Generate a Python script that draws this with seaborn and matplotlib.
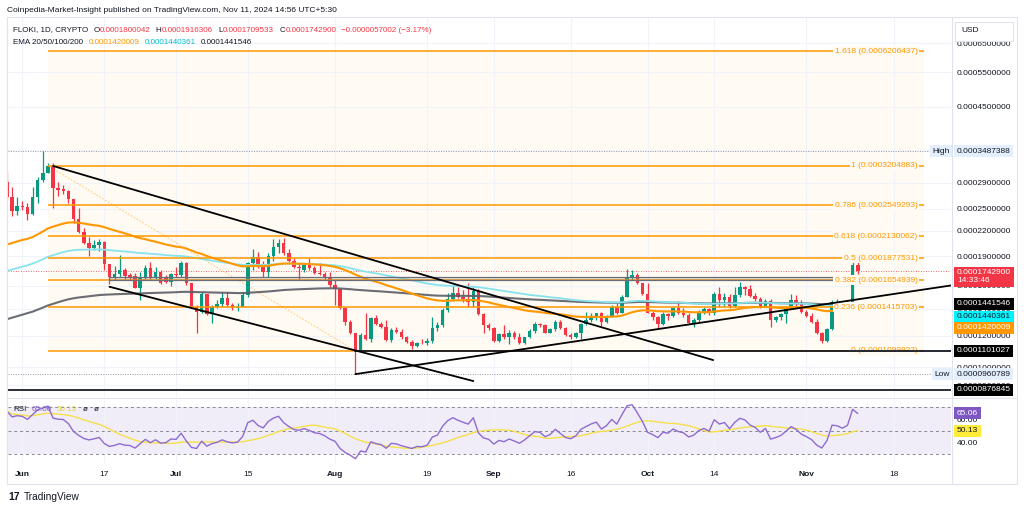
import numpy as np
import pandas as pd
import matplotlib
matplotlib.use("Agg")
import matplotlib.pyplot as plt
import matplotlib.dates as mdates
from matplotlib.patches import Rectangle
from matplotlib.lines import Line2D
import seaborn as sns

sns.set_theme(style="white")
plt.rcParams["font.family"] = ["Liberation Sans", "DejaVu Sans"]
plt.rcParams["axes.unicode_minus"] = False

# ---------------- data (prices in units of 1e-4 USD) ----------------
UNIT = 1e-4
dates = pd.date_range("2024-05-29", "2024-11-11", freq="D")
opens = [2.922, 2.670, 2.471, 2.543, 2.520, 2.423, 2.670, 2.951, 3.077, 3.205,
         2.822, 2.795, 2.774, 2.638, 2.350, 2.188, 2.053, 1.988, 2.023, 2.065,
         1.815, 1.681, 1.710, 1.754, 1.700, 1.690, 1.583, 1.671, 1.777, 1.671,
         1.736, 1.681, 1.639, 1.713, 1.704, 1.829, 1.624, 1.418, 1.378, 1.526,
         1.359, 1.413, 1.440, 1.489, 1.433, 1.405, 1.418, 1.518, 1.829, 1.894,
         1.787, 1.736, 1.902, 1.999, 2.053, 1.931, 1.851, 1.787, 1.750, 1.805,
         1.771, 1.726, 1.713, 1.671, 1.608, 1.568, 1.405, 1.301, 1.216, 1.100,
         1.204, 1.174, 1.326, 1.283, 1.259, 1.170, 1.240, 1.228, 1.188, 1.159,
         1.130, 1.152, 1.148, 1.165, 1.252, 1.276, 1.392, 1.480, 1.532, 1.503,
         1.480, 1.460, 1.556, 1.359, 1.276, 1.252, 1.165, 1.211, 1.188, 1.220,
         1.188, 1.152, 1.188, 1.235, 1.283, 1.274, 1.220, 1.244, 1.301, 1.252,
         1.204, 1.188, 1.216, 1.283, 1.314, 1.344, 1.365, 1.301, 1.339, 1.413,
         1.370, 1.503, 1.681, 1.704, 1.624, 1.526, 1.370, 1.334, 1.283, 1.359,
         1.345, 1.405, 1.370, 1.352, 1.293, 1.314, 1.370, 1.397, 1.365, 1.526,
         1.475, 1.498, 1.424, 1.518, 1.587, 1.568, 1.509, 1.480, 1.418, 1.469,
         1.314, 1.334, 1.359, 1.413, 1.475, 1.440, 1.378, 1.344, 1.301, 1.216,
         1.165, 1.244, 1.430, 1.451, 1.418, 1.446, 1.8000042]
highs = [3.085, 2.838, 2.670, 2.613, 2.578, 2.838, 3.007, 3.487388, 3.261, 3.249,
         2.922, 2.867, 2.785, 2.643, 2.505, 2.231, 2.126, 2.086, 2.094, 2.070,
         1.820, 1.795, 1.913, 1.774, 1.723, 1.726, 1.736, 1.805, 1.840, 1.787,
         1.754, 1.704, 1.726, 1.787, 1.851, 1.840, 1.628, 1.433, 1.547, 1.530,
         1.433, 1.475, 1.547, 1.547, 1.451, 1.446, 1.547, 1.840, 1.976, 1.949,
         1.851, 1.938, 2.094, 2.102, 2.106, 1.976, 1.876, 1.823, 1.815, 1.876,
         1.795, 1.823, 1.736, 1.736, 1.655, 1.577, 1.418, 1.314, 1.220, 1.216,
         1.370, 1.334, 1.352, 1.301, 1.314, 1.252, 1.259, 1.244, 1.197, 1.170,
         1.159, 1.179, 1.181, 1.339, 1.301, 1.405, 1.532, 1.599, 1.592, 1.562,
         1.624, 1.592, 1.568, 1.370, 1.288, 1.259, 1.220, 1.276, 1.240, 1.235,
         1.220, 1.193, 1.244, 1.301, 1.293, 1.283, 1.252, 1.314, 1.314, 1.259,
         1.220, 1.228, 1.293, 1.378, 1.370, 1.370, 1.378, 1.352, 1.433, 1.446,
         1.518, 1.761, 1.754, 1.726, 1.629, 1.629, 1.386, 1.344, 1.378, 1.370,
         1.413, 1.469, 1.405, 1.365, 1.326, 1.392, 1.418, 1.405, 1.547, 1.592,
         1.532, 1.526, 1.592, 1.639, 1.599, 1.608, 1.538, 1.498, 1.480, 1.480,
         1.344, 1.370, 1.424, 1.526, 1.518, 1.475, 1.392, 1.365, 1.319, 1.228,
         1.252, 1.475, 1.480, 1.460, 1.475, 1.931, 1.9163060]
lows = [2.643, 2.396, 2.410, 2.481, 2.342, 2.410, 2.578, 2.922, 3.067, 2.505,
        2.690, 2.720, 2.578, 2.305, 2.175, 2.037, 1.902, 1.969, 1.957, 1.754,
        1.617, 1.655, 1.684, 1.661, 1.655, 1.577, 1.475, 1.661, 1.661, 1.661,
        1.617, 1.629, 1.599, 1.687, 1.687, 1.608, 1.405, 1.216, 1.370, 1.352,
        1.293, 1.405, 1.418, 1.418, 1.392, 1.386, 1.413, 1.503, 1.754, 1.771,
        1.687, 1.687, 1.851, 1.938, 1.913, 1.840, 1.771, 1.655, 1.736, 1.754,
        1.713, 1.704, 1.655, 1.592, 1.433, 1.397, 1.276, 1.211, 0.960789, 1.094,
        1.170, 1.159, 1.276, 1.252, 1.165, 1.159, 1.216, 1.174, 1.148, 1.108,
        1.122, 1.143, 1.137, 1.152, 1.235, 1.264, 1.378, 1.469, 1.489, 1.460,
        1.418, 1.418, 1.352, 1.220, 1.240, 1.159, 1.159, 1.174, 1.143, 1.174,
        1.143, 1.143, 1.181, 1.220, 1.264, 1.216, 1.216, 1.235, 1.244, 1.197,
        1.174, 1.181, 1.174, 1.276, 1.301, 1.314, 1.269, 1.288, 1.334, 1.359,
        1.365, 1.497, 1.655, 1.617, 1.518, 1.365, 1.314, 1.244, 1.276, 1.314,
        1.340, 1.359, 1.339, 1.283, 1.259, 1.301, 1.359, 1.352, 1.352, 1.418,
        1.418, 1.405, 1.413, 1.503, 1.518, 1.498, 1.469, 1.405, 1.413, 1.259,
        1.301, 1.314, 1.288, 1.405, 1.418, 1.370, 1.334, 1.293, 1.211, 1.152,
        1.159, 1.240, 1.397, 1.397, 1.397, 1.440, 1.7095330]
closes = [2.670, 2.471, 2.543, 2.520, 2.423, 2.670, 2.951, 3.077, 3.205, 2.822,
          2.785, 2.774, 2.638, 2.350, 2.188, 2.053, 1.988, 2.023, 2.065, 1.815,
          1.681, 1.710, 1.754, 1.694, 1.681, 1.583, 1.681, 1.777, 1.671, 1.736,
          1.629, 1.639, 1.713, 1.704, 1.829, 1.624, 1.418, 1.378, 1.526, 1.359,
          1.413, 1.440, 1.489, 1.433, 1.405, 1.418, 1.518, 1.829, 1.894, 1.787,
          1.736, 1.902, 1.999, 2.053, 1.931, 1.851, 1.787, 1.771, 1.805, 1.771,
          1.726, 1.713, 1.671, 1.608, 1.568, 1.405, 1.301, 1.216, 1.100, 1.204,
          1.174, 1.326, 1.283, 1.259, 1.170, 1.240, 1.228, 1.188, 1.159, 1.130,
          1.152, 1.148, 1.165, 1.252, 1.276, 1.392, 1.480, 1.532, 1.503, 1.480,
          1.460, 1.556, 1.359, 1.276, 1.252, 1.165, 1.211, 1.188, 1.220, 1.188,
          1.152, 1.188, 1.235, 1.283, 1.274, 1.220, 1.244, 1.301, 1.252, 1.204,
          1.188, 1.216, 1.283, 1.314, 1.344, 1.365, 1.301, 1.339, 1.413, 1.370,
          1.503, 1.681, 1.704, 1.624, 1.526, 1.370, 1.334, 1.283, 1.359, 1.345,
          1.405, 1.370, 1.352, 1.293, 1.314, 1.370, 1.397, 1.365, 1.526, 1.475,
          1.498, 1.424, 1.518, 1.587, 1.568, 1.509, 1.480, 1.418, 1.469, 1.314,
          1.334, 1.359, 1.413, 1.475, 1.440, 1.378, 1.344, 1.301, 1.216, 1.165,
          1.244, 1.460, 1.451, 1.418, 1.460, 1.800, 1.7429000]

# EMA values at the left edge of the chart
EMA_SEEDS = {50: 2.006, 100: 1.726, 200: 1.306}
# Wilder RSI(14) averages at the first candle (chosen to match the RSI start ~66)
RSI_SEED_GAIN, RSI_SEED_LOSS = 0.13, 0.065

fib_levels = ["1.618", "1", "0.786", "0.618", "0.5", "0.382", "0.236", "0"]
fib_prices = [0.0006206437, 0.0003204883, 0.0002549293, 0.0002130062,
              0.0001877531, 0.0001654939, 0.0001415703, 0.0001099922]
fib_start = "2024-06-06"
fib_trend = [("2024-06-06", 0.0003204883), ("2024-08-05", 0.0001099922)]

high_price, low_price = 0.0003487388, 0.0000960789
last_price = 0.00017429
support_line = 0.0001101027
bottom_line = 0.0000876845
box_zone = ("2024-06-18", "2024-11-11", 0.0001655, 0.0001687)
upper_channel = [("2024-06-07", 0.000320), ("2024-10-13 19:00", 0.0001042)]
lower_channel = [("2024-06-18", 0.0001592), ("2024-08-28", 0.0000923)]
rising_line = [("2024-08-05", 0.0000960789), ("2024-11-24 02:00", 0.0001568)]

price_ticks = [0.00009, 0.0001, 0.00012, 0.00014, 0.00016, 0.00019, 0.00022,
               0.00025, 0.00029, 0.00035, 0.00045, 0.00055, 0.00065]
date_ticks = ["2024-06-01", "2024-06-17", "2024-07-01", "2024-07-15", "2024-08-01",
              "2024-08-19", "2024-09-01", "2024-09-16", "2024-10-01", "2024-10-14",
              "2024-11-01", "2024-11-18"]
date_labels = ["Jun", "17", "Jul", "15", "Aug", "19", "Sep", "16", "Oct", "14", "Nov", "18"]

# ---------------- derived series ----------------
o = np.array(opens) * UNIT
h = np.array(highs) * UNIT
l = np.array(lows) * UNIT
c = np.array(closes) * UNIT
x = mdates.date2num(dates.to_pydatetime())

def ema(vals, span, seed):
    a = 2.0 / (span + 1)
    out, prev = [], seed
    for v in vals:
        prev = a * v + (1 - a) * prev
        out.append(prev)
    return np.array(out)

ema50 = ema(np.array(closes), 50, EMA_SEEDS[50]) * UNIT
ema100 = ema(np.array(closes), 100, EMA_SEEDS[100]) * UNIT
ema200 = ema(np.array(closes), 200, EMA_SEEDS[200]) * UNIT

G, Ls = RSI_SEED_GAIN, RSI_SEED_LOSS
rsi = [100 * G / (G + Ls)]
for i in range(1, len(closes)):
    d = closes[i] - closes[i - 1]
    G = (G * 13 + max(d, 0)) / 14
    Ls = (Ls * 13 + max(-d, 0)) / 14
    rsi.append(100 * G / (G + Ls))
rsi = np.array(rsi)
rsi_ma = pd.Series(rsi).rolling(14, min_periods=1).mean().values

# ---------------- figure ----------------
W, H = 1024, 509
fig = plt.figure(figsize=(W / 100, H / 100), dpi=100, facecolor="white")
fx = lambda px: px / W
fy = lambda py: 1 - py / H
LX, RX = 8, 951
TOP, MID, RTOP, RBOT = 17, 397, 398, 463
ax = fig.add_axes([fx(LX), fy(MID), (RX - LX) / W, (MID - TOP) / H])
axr = fig.add_axes([fx(LX), fy(RBOT), (RX - LX) / W, (RBOT - RTOP) / H], sharex=ax)

TXT = "#131722"
GREEN, RED = "#089981", "#f23645"
ORANGE = "#ff9800"
CREAM = "#fffaf2"
FS = 6

jun1 = mdates.date2num(pd.Timestamp("2024-06-01"))
x0, x1 = jun1 - 2.79, jun1 + 181.2
ax.set_xlim(x0, x1)
ax.set_yscale("log")
ax.set_ylim(0.8417e-4, 7.57e-4)
px2x = lambda px: x0 + (px - LX) / (RX - LX) * (x1 - x0)
d2n = lambda s: mdates.date2num(pd.Timestamp(s))

for a in (ax, axr):
    for s in a.spines.values():
        s.set_visible(False)
ax.set_xticks([d2n(d) for d in date_ticks])
ax.tick_params(axis="x", labelbottom=False, length=0)
ax.grid(True, color="#f0f3fa", lw=0.8)
axr.grid(True, axis="x", color="#f0f3fa", lw=0.8)
axr.grid(False, axis="y")

# fib retracement
xf0, xf1 = d2n(fib_start), px2x(924)
ax.fill_between([xf0, xf1], fib_prices[-1], fib_prices[0], color=CREAM, lw=0, zorder=0.2)
for lev, p in zip(fib_levels, fib_prices):
    ax.plot([xf0, xf1], [p, p], color=ORANGE, lw=1.1, zorder=6, solid_capstyle="butt")
    ax.text(px2x(917.5), p, f"{lev} ({p:.10f})", ha="right", va="center", fontsize=FS,
            color=ORANGE, zorder=6.5, bbox=dict(fc=CREAM, ec="none", pad=1.0))
ax.plot([d2n(fib_trend[0][0]), d2n(fib_trend[1][0])], [fib_trend[0][1], fib_trend[1][1]],
        color=ORANGE, lw=0.8, alpha=0.45, ls=(0, (1.5, 1.5)), zorder=2)

# horizontal reference lines
ax.axhline(high_price, color="#9598a1", lw=0.7, ls=(0, (1, 1.5)), zorder=1)
ax.axhline(low_price, color="#9598a1", lw=0.7, ls=(0, (1, 1.5)), zorder=1)
ax.axhline(last_price, color=RED, lw=0.6, ls=(0, (1, 2)), zorder=1)
ax.axhline(bottom_line, color="#2a2e39", lw=1.4, zorder=6)
ax.plot([d2n("2024-08-05"), x1], [support_line, support_line], color="#131722", lw=1.3, zorder=7)

# zone box
bx0, bx1 = d2n(box_zone[0]), d2n(box_zone[1])
ax.add_patch(Rectangle((bx0, box_zone[2]), bx1 - bx0, box_zone[3] - box_zone[2],
                       fc="#787b86", alpha=0.18, ec="none", zorder=6))
ax.add_patch(Rectangle((bx0, box_zone[2]), bx1 - bx0, box_zone[3] - box_zone[2],
                       fc="none", ec="#6a6d78", lw=0.9, zorder=6))

# candles
col = np.where(c >= o, GREEN, RED)
ax.vlines(x, l, h, colors=col, lw=0.9, zorder=4)
blo = np.minimum(o, c)
bhi = np.maximum(np.maximum(o, c), blo * 1.004)
ax.bar(x, bhi - blo, bottom=blo, width=0.7, color=col, lw=0, zorder=5)

# EMAs
sns.lineplot(x=x, y=ema200, ax=ax, color="#5b5d66", lw=1.5, alpha=0.9, zorder=5.5)
sns.lineplot(x=x, y=ema100, ax=ax, color="#86e3ee", lw=1.3, zorder=5.6)
sns.lineplot(x=x, y=ema50, ax=ax, color=ORANGE, lw=1.5, zorder=5.7)

# trend lines
def seg(pts, extend=False):
    xa, ya = d2n(pts[0][0]), np.log(pts[0][1])
    xb, yb = d2n(pts[1][0]), np.log(pts[1][1])
    if extend:
        yb = ya + (yb - ya) * (x1 - xa) / (xb - xa)
        xb = x1
    ax.plot([xa, xb], [np.exp(ya), np.exp(yb)], color="#000000", lw=1.3, zorder=7)
seg(upper_channel)
seg(lower_channel)
seg(rising_line, extend=True)

# price axis
ax.yaxis.tick_right()
ax.set_yticks(price_ticks)
ax.set_yticklabels([f"{t:.10f}" for t in price_ticks])
ax.yaxis.set_minor_locator(matplotlib.ticker.NullLocator())
ax.tick_params(axis="y", length=0, pad=4.3, labelsize=FS, colors=TXT)
ax.set_xlabel(""); ax.set_ylabel("")

yb_main = ax.get_yaxis_transform()
LBLX = (957 - LX) / (RX - LX)
def axis_label(a, val, text, fc, tc, dy=0):
    a.annotate(text, xy=(LBLX, val), xycoords=a.get_yaxis_transform(),
               xytext=(0, dy), textcoords="offset points", ha="left", va="center",
               fontsize=FS, color=tc, zorder=20, annotation_clip=False,
               bbox=dict(boxstyle="square,pad=0.3", fc=fc, ec="none"))

axis_label(ax, high_price, "0.0003487388", "#e3effd", TXT)
axis_label(ax, last_price, "0.0001742900\n14:33:46", RED, "white", dy=-4.0)
axis_label(ax, 0.0001441546, "0.0001441546", "#000000", "white")
axis_label(ax, 0.0001440361, "0.0001440361", "#00f5ff", TXT, dy=-9.1)
axis_label(ax, 0.0001420009, "0.0001420009", ORANGE, "white", dy=-15.3)
axis_label(ax, support_line, "0.0001101027", "#000000", "white")
axis_label(ax, low_price, "0.0000960789", "#e3effd", TXT)
axis_label(ax, bottom_line, "0.0000876845", "#000000", "white")

HLX = (949.5 - LX) / (RX - LX)
for val, t in ((high_price, "High"), (low_price, "Low")):
    ax.text(HLX, val, t, transform=yb_main, ha="right", va="center", fontsize=FS,
            color=TXT, zorder=20, bbox=dict(boxstyle="square,pad=0.3", fc="#e3effd", ec="none"))

# RSI pane
axr.axhspan(30, 70, color="#7e57c2", alpha=0.1, lw=0, zorder=0.2)
for v in (70, 50, 30):
    axr.axhline(v, color="#868993", lw=0.7, ls=(0, (3, 3)), zorder=1)
sns.lineplot(x=x, y=rsi_ma, ax=axr, color="#f5e04a", lw=1.0, zorder=3)
sns.lineplot(x=x, y=rsi, ax=axr, color="#8e6bd0", lw=1.0, zorder=4)
axr.set_ylim(22.6, 77.9)
axr.set_xlim(x0, x1)
axr.yaxis.tick_right()
axr.set_yticks([40, 60])
axr.set_yticklabels(["40.00", "60.00"])
axr.tick_params(axis="y", length=0, pad=4.3, labelsize=FS, colors=TXT)
axr.set_xticks([d2n(d) for d in date_ticks])
axr.set_xticklabels(date_labels)
axr.tick_params(axis="x", length=0, pad=5.5, labelsize=FS, colors=TXT)
for tl, lab in zip(axr.get_xticklabels(), date_labels):
    if not lab.isdigit():
        tl.set_fontweight("bold")
axr.set_xlabel(""); axr.set_ylabel("")
axis_label(axr, 65.06, "65.06", "#7e57c2", "white")
axis_label(axr, 50.13, "50.13", "#ffeb3b", TXT)

# frame / separators
def fline(xa, ya, xb, yb, color="#e0e3eb", lw=0.8):
    fig.add_artist(Line2D([fx(xa), fx(xb)], [fy(ya), fy(yb)], color=color, lw=lw))
fline(7, 17, 1017, 17); fline(7, 484, 1017, 484)
fline(7, 17, 7, 484); fline(1017, 17, 1017, 484)
fline(7, 397.5, 1017, 397.5)
fline(951.5, 17, 951.5, 484)

# USD box
fig.add_artist(Rectangle((fx(955), fy(41)), fx(1013) - fx(955), fy(22) - fy(41),
                         transform=fig.transFigure, fc="white", ec="#e0e3eb", lw=0.8, zorder=25))
fig.text(fx(961), fy(31), "USD", fontsize=FS, color=TXT, va="center", ha="left", zorder=30)

# header texts (placed one after another)
renderer = fig.canvas.get_renderer()
def text_row(items, y, x_start, fs):
    xpos = x_start
    for t, cc, gap in items:
        tt = fig.text(fx(xpos), fy(y), t, fontsize=fs, color=cc, va="center", ha="left")
        bb = tt.get_window_extent(renderer)
        xpos = xpos + bb.width + gap

fig.text(fx(7), fy(10.7), "Coinpedia-Market-Insight published on TradingView.com, Nov 11, 2024 14:56 UTC+5:30",
         fontsize=FS, color=TXT, va="center")
text_row([("FLOKI, 1D, CRYPTO", TXT, 5), ("O", TXT, 0.5), ("0.0001800042", RED, 5),
          ("H", TXT, 0.5), ("0.0001916306", RED, 5), ("L", TXT, 0.5), ("0.0001709533", RED, 5),
          ("C", TXT, 0.5), ("0.0001742900", RED, 5), ("\u22120.0000057002 (\u22123.17%)", RED, 0)],
         30, 13, 5.8)
text_row([("EMA 20/50/100/200", TXT, 5.5), ("0.0001420009", ORANGE, 5),
          ("0.0001440361", "#00bcd4", 5), ("0.0001441546", TXT, 0)], 42.3, 13, 5.8)
text_row([("RSI", TXT, 5), ("65.06", "#7e57c2", 5), ("50.13", "#e8d23a", 6),
          ("\u00f8", TXT, 6), ("\u00f8", TXT, 0)], 409.3, 13, 5.8)

# footer
fig.text(fx(8), fy(497), "17", fontsize=7.5, fontweight="bold", color=TXT, va="center")
fig.text(fx(24), fy(497), "TradingView", fontsize=7.3, color=TXT, va="center")

fig.savefig("out.png", dpi=100, facecolor="white")
